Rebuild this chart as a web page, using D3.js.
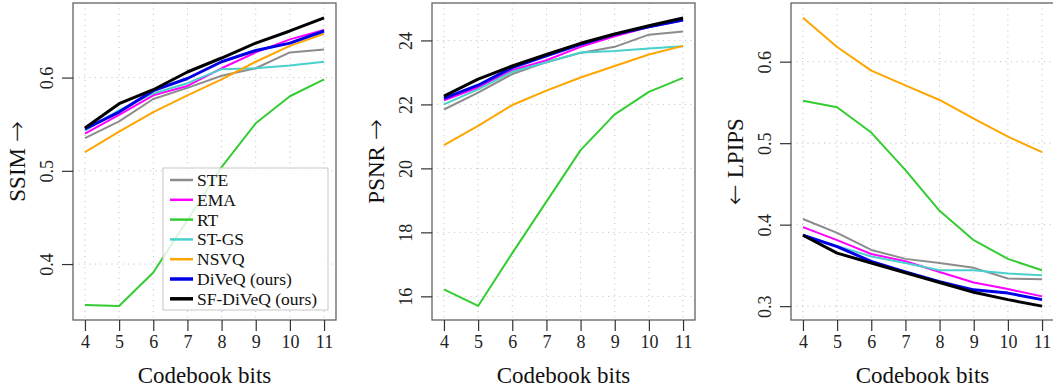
<!DOCTYPE html>
<html>
<head>
<meta charset="utf-8">
<script src="https://cdn.jsdelivr.net/npm/d3@7"></script>
<style>
  body { margin: 0; background: #fff; }
  svg { display: block; font-family: "Liberation Serif", "Times New Roman", serif; }
</style>
</head>
<body>
<svg width="1053" height="389"></svg>
<script>
// codebook bits on the x axis
const bits = [4, 5, 6, 7, 8, 9, 10, 11]
const methods = ['STE', 'EMA', 'RT', 'ST-GS', 'NSVQ', 'DiVeQ (ours)', 'SF-DiVeQ (ours)']

// one row per method, same order as methods
const ssimValues = [
    [0.535, 0.553, 0.577, 0.589, 0.602, 0.610, 0.627, 0.630],
    [0.540, 0.560, 0.581, 0.591, 0.610, 0.627, 0.641, 0.651],
    [0.356, 0.355, 0.391, 0.447, 0.504, 0.551, 0.580, 0.598],
    [0.543, 0.565, 0.583, 0.594, 0.609, 0.610, 0.613, 0.617],
    [0.520, 0.542, 0.563, 0.581, 0.598, 0.617, 0.634, 0.647],
    [0.545, 0.563, 0.586, 0.599, 0.617, 0.629, 0.637, 0.650],
    [0.546, 0.572, 0.587, 0.606, 0.621, 0.637, 0.650, 0.664]
]
const psnrValues = [
    [21.84, 22.37, 22.95, 23.32, 23.61, 23.80, 24.18, 24.28],
    [22.13, 22.53, 23.07, 23.38, 23.80, 24.13, 24.42, 24.63],
    [16.22, 15.70, 17.35, 18.96, 20.57, 21.69, 22.39, 22.83],
    [22.00, 22.47, 23.02, 23.32, 23.62, 23.67, 23.75, 23.82],
    [20.73, 21.33, 21.98, 22.43, 22.84, 23.20, 23.56, 23.83],
    [22.19, 22.60, 23.15, 23.52, 23.88, 24.19, 24.43, 24.64],
    [22.26, 22.79, 23.20, 23.56, 23.91, 24.20, 24.46, 24.70]
]
const lpipsValues = [
    [0.407, 0.390, 0.369, 0.358, 0.353, 0.347, 0.334, 0.333],
    [0.397, 0.381, 0.364, 0.355, 0.342, 0.329, 0.321, 0.312],
    [0.552, 0.544, 0.513, 0.467, 0.417, 0.381, 0.358, 0.344],
    [0.387, 0.374, 0.361, 0.353, 0.344, 0.344, 0.340, 0.338],
    [0.654, 0.618, 0.589, 0.571, 0.553, 0.530, 0.508, 0.489],
    [0.387, 0.373, 0.355, 0.342, 0.330, 0.320, 0.316, 0.308],
    [0.387, 0.365, 0.353, 0.341, 0.329, 0.317, 0.308, 0.300]
]

const ssimTicks = [0.4, 0.5, 0.6]
const psnrTicks = [16, 18, 20, 22, 24]
const lpipsTicks = [0.3, 0.4, 0.5, 0.6]

const colors = ['#8c8c8c', '#ff00ff', '#33cc33', '#48d1cc', '#ffa500', '#0000e6', '#000000']
const widths = [2, 2, 2, 2, 2, 3, 3]

let svg = d3.select('svg')

const plotTop = 3
const plotBottom = 320
const panelWidth = 263

// title parts: text before arrow, arrow, text after
const panels = [
    { left: 73, values: ssimValues, ticks: ssimTicks, domain: [0.340, 0.680], title: ['SSIM ', '\u2192', ''], legend: true },
    { left: 432, values: psnrValues, ticks: psnrTicks, domain: [15.26, 25.17], title: ['PSNR ', '\u2192', ''], legend: false },
    { left: 791, values: lpipsValues, ticks: lpipsTicks, domain: [0.283, 0.672], title: ['', '\u2190', ' LPIPS'], legend: false }
]

const drawPanel = (p) => {
    let xScale = d3.scaleLinear()
                   .domain([3.65, 11.35])
                   .range([p.left, p.left + panelWidth])
    let yScale = d3.scaleLinear()
                   .domain(p.domain)
                   .range([plotBottom, plotTop])

    let g = svg.append('g')

    // dotted grid
    g.selectAll('.vgrid')
     .data(bits)
     .enter()
     .append('line')
     .attr('x1', d => xScale(d)).attr('x2', d => xScale(d))
     .attr('y1', plotTop).attr('y2', plotBottom)
     .attr('stroke', '#bdbdbd').attr('stroke-width', 1)
     .attr('stroke-dasharray', '1,4.5')
    g.selectAll('.hgrid')
     .data(p.ticks)
     .enter()
     .append('line')
     .attr('x1', p.left).attr('x2', p.left + panelWidth)
     .attr('y1', d => yScale(d)).attr('y2', d => yScale(d))
     .attr('stroke', '#bdbdbd').attr('stroke-width', 1)
     .attr('stroke-dasharray', '1,4.5')

    let line = d3.line()
                 .x((d, i) => xScale(bits[i]))
                 .y(d => yScale(d))

    g.selectAll('.series')
     .data(p.values)
     .enter()
     .append('path')
     .attr('d', d => line(d))
     .attr('fill', 'none')
     .attr('stroke', (d, i) => colors[i])
     .attr('stroke-width', (d, i) => widths[i])
     .attr('stroke-linejoin', 'round')

    // box
    g.append('rect')
     .attr('x', p.left).attr('y', plotTop)
     .attr('width', panelWidth).attr('height', plotBottom - plotTop)
     .attr('fill', 'none').attr('stroke', '#555').attr('stroke-width', 1.2)

    let xAxis = d3.axisBottom(xScale).tickValues(bits).tickSize(11).tickPadding(4)
    let xg = g.append('g')
              .attr('transform', 'translate(0,' + plotBottom + ')')
              .call(xAxis)
    xg.select('.domain').remove()
    xg.selectAll('line').attr('stroke', '#333').attr('stroke-width', 1.2)
    xg.selectAll('text').attr('font-size', 18).attr('fill', '#222')
      .attr('font-family', '"Liberation Serif", serif')

    let yAxis = d3.axisLeft(yScale).tickValues(p.ticks).tickSize(11).tickFormat(d3.format('~g'))
    let yg = g.append('g')
              .attr('transform', 'translate(' + p.left + ',0)')
              .call(yAxis)
    yg.select('.domain').remove()
    yg.selectAll('line').attr('stroke', '#333').attr('stroke-width', 1.2)
    yg.selectAll('text')
      .attr('x', null).attr('dy', null)
      .attr('text-anchor', 'middle')
      .attr('transform', 'translate(-20,0) rotate(-90)')
      .attr('font-size', 18).attr('fill', '#222')
      .attr('font-family', '"Liberation Serif", serif')

    // axis titles
    g.append('text')
     .attr('x', p.left + panelWidth / 2).attr('y', plotBottom + 63)
     .attr('text-anchor', 'middle')
     .attr('font-size', 23).attr('fill', '#111')
     .text('Codebook bits')
    let yt = g.append('text')
              .attr('transform', 'translate(' + (p.left - 48) + ',' + ((plotTop + plotBottom) / 2) + ') rotate(-90)')
              .attr('text-anchor', 'middle')
              .attr('font-size', 23).attr('fill', '#111')
    yt.append('tspan').text(p.title[0])
    yt.append('tspan').attr('font-family', '"DejaVu Sans", sans-serif').attr('font-weight', 200)
      .attr('font-size', 25).text(p.title[1])
    yt.append('tspan').text(p.title[2])

    if (p.legend) drawLegend(g)
}

const drawLegend = (g) => {
    let lx = 163, ly = 168
    g.append('rect')
     .attr('x', lx).attr('y', ly)
     .attr('width', 165).attr('height', 142)
     .attr('fill', '#fff').attr('fill-opacity', 0.82)
     .attr('stroke', '#c8c8c8').attr('stroke-width', 1)

    let rows = g.selectAll('.leg')
                .data(methods)
                .enter()
                .append('g')
                .attr('transform', (d, i) => 'translate(' + lx + ',' + (ly + 12 + i * 19.8) + ')')
    rows.append('line')
        .attr('x1', 7).attr('x2', 30)
        .attr('stroke', (d, i) => colors[i])
        .attr('stroke-width', (d, i) => widths[i] + 0.5)
    rows.append('text')
        .attr('x', 34).attr('y', 6)
        .attr('font-size', 17.5).attr('fill', '#111')
        .text(d => d)
}

panels.forEach(p => drawPanel(p))
</script>
</body>
</html>
